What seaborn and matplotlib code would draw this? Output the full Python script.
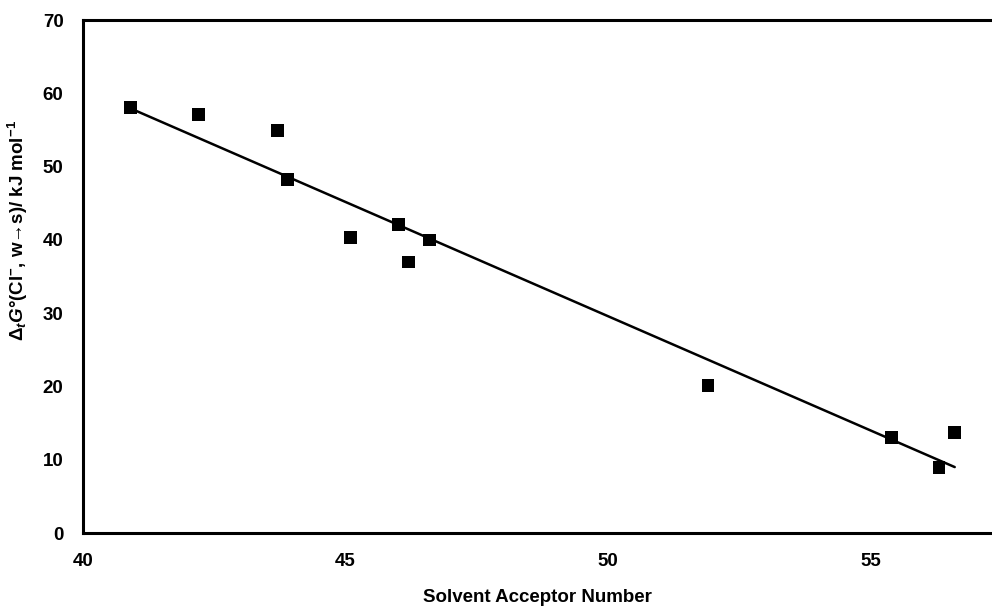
import pandas as pd
import seaborn as sns
import matplotlib.pyplot as plt

# solvent acceptor numbers and transfer Gibbs energies of Cl-
acceptor_number = [40.9, 42.2, 43.7, 43.9, 45.1, 46.0, 46.2, 46.6, 51.9, 55.4, 56.3, 56.6]
delta_g = [58.1, 57.1, 54.9, 48.3, 40.3, 42.1, 37.0, 40.0, 20.1, 13.1, 9.0, 13.7]
x_ticks = [40, 45, 50, 55]
y_ticks = [0, 10, 20, 30, 40, 50, 60, 70]

df = pd.DataFrame({"AN": acceptor_number, "dG": delta_g})

sns.set_style("white")
plt.rcParams["font.family"] = ["Liberation Sans", "DejaVu Sans"]
plt.rcParams["mathtext.fontset"] = "custom"
plt.rcParams["mathtext.rm"] = "Liberation Sans:bold"
plt.rcParams["mathtext.bf"] = "Liberation Sans:bold"
plt.rcParams["mathtext.it"] = "Liberation Sans:bold:italic"

fig = plt.figure(figsize=(9.92, 6.1), dpi=100)
ax = fig.add_axes([0.0837, 0.126, 0.9163, 0.841])

sns.regplot(data=df, x="AN", y="dG", ax=ax, ci=None, marker="s",
            scatter_kws={"s": 85, "color": "black", "alpha": 1, "edgecolor": "none", "zorder": 3},
            line_kws={"color": "black", "linewidth": 1.8})

ax.set_xlim(40, 57.31)
ax.set_ylim(0, 70)
ax.set_xticks(x_ticks)
ax.set_yticks(y_ticks)
ax.tick_params(axis="both", which="major", length=5, width=0.8, color="#999999",
               direction="out", labelsize=13.5, labelcolor="black", pad=9)
for lab in ax.get_xticklabels() + ax.get_yticklabels():
    lab.set_fontweight("bold")

for side in ["left", "top", "bottom"]:
    ax.spines[side].set_linewidth(2.2)
    ax.spines[side].set_color("black")
ax.spines["right"].set_visible(False)

ax.set_xlabel("Solvent Acceptor Number", fontsize=13.5, fontweight="bold", color="black")
ax.xaxis.set_label_coords(0.5, -0.108)
ax.set_ylabel(r"$\Delta_{t}G$°(Cl$^{-}$, w→s)/ kJ mol$^{-1}$", fontsize=13.5,
              fontweight="bold", color="black")
ax.yaxis.set_label_coords(-0.058, 0.59)

fig.savefig("out.png", dpi=100)
